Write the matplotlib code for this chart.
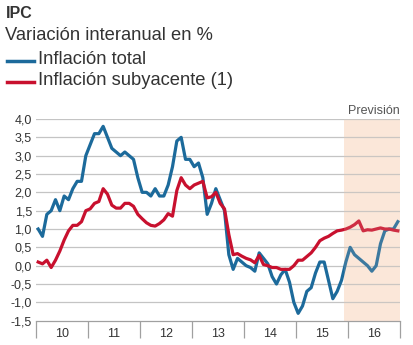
import matplotlib
matplotlib.use("Agg")
import matplotlib.pyplot as plt
from matplotlib.lines import Line2D
import numpy as np

years = ["10", "11", "12", "13", "14", "15", "16"]
yticks = [4.0, 3.5, 3.0, 2.5, 2.0, 1.5, 1.0, 0.5, 0.0, -0.5, -1.0, -1.5]

total = [
    1.0, 0.8, 1.4, 1.5, 1.8, 1.5, 1.9, 1.8, 2.1, 2.3, 2.3, 3.0,
    3.3, 3.6, 3.6, 3.8, 3.5, 3.2, 3.1, 3.0, 3.1, 3.0, 2.9, 2.4,
    2.0, 2.0, 1.9, 2.1, 1.9, 1.9, 2.2, 2.7, 3.4, 3.5, 2.9, 2.9,
    2.7, 2.8, 2.4, 1.4, 1.7, 2.1, 1.8, 1.5, 0.3, -0.1, 0.2, 0.1,
    0.0, -0.05, -0.15, 0.35, 0.2, 0.05, -0.3, -0.5, -0.25, -0.1, -0.45, -1.0,
    -1.3, -1.1, -0.7, -0.6, -0.2, 0.1, 0.1, -0.4, -0.9, -0.7, -0.4, 0.1,
    0.5, 0.3, 0.2, 0.1, 0.0, -0.15, 0.0, 0.6, 0.95, 1.0, 1.0, 1.2,
]
subyacente = [
    0.1, 0.05, 0.15, -0.05, 0.15, 0.4, 0.7, 0.95, 1.1, 1.1, 1.2, 1.5,
    1.55, 1.7, 1.75, 2.1, 1.95, 1.65, 1.57, 1.57, 1.7, 1.7, 1.62, 1.4,
    1.28, 1.17, 1.1, 1.08, 1.15, 1.25, 1.42, 1.35, 2.05, 2.4, 2.2, 2.1,
    2.2, 2.25, 2.3, 1.85, 1.88, 2.0, 1.7, 1.55, 0.85, 0.3, 0.33, 0.26,
    0.2, 0.16, 0.08, 0.28, 0.03, 0.0, -0.05, -0.05, -0.1, -0.1, -0.1, 0.0,
    0.15, 0.15, 0.25, 0.35, 0.5, 0.68, 0.75, 0.8, 0.88, 0.95, 0.97, 1.0,
    1.05, 1.12, 1.22, 0.95, 0.98, 0.97, 1.0, 1.03, 1.0, 1.0, 0.97, 0.95,
]
forecast_start = 71  # month index where "Previsión" shading begins

FONT = "Liberation Sans"
BLUE = "#1c6a9b"
RED = "#c8102e"
TXT = "#333333"
GRID = "#c4c4c4"

fig = plt.figure(figsize=(4.14, 3.45), dpi=100)
ax = fig.add_axes([36 / 414, (345 - 320.7) / 345, 364 / 414, (320.7 - 119) / 345])

n = len(total)
x = np.arange(n) + 0.5
ax.plot(x, total, color=BLUE, lw=2.3, solid_joinstyle="round", zorder=3)
ax.plot(x, subyacente, color=RED, lw=2.3, solid_joinstyle="round", zorder=4)

ax.axvspan(forecast_start, n, facecolor="#fcebdf", lw=0, zorder=0)
ax.axvspan(forecast_start, n, facecolor="#f7d3bb", alpha=0.15, lw=0, zorder=5)

ax.set_xlim(0, n)
ax.set_ylim(-1.5, 4.0)
for v in yticks[:-1]:
    ax.axhline(v, color=GRID, lw=0.9, zorder=1)

for s in ["top", "right", "left"]:
    ax.spines[s].set_visible(False)
ax.spines["bottom"].set_color("#a0a0a0")
ax.spines["bottom"].set_linewidth(0.9)

ax.set_yticks(yticks)
ax.set_yticklabels([f"{v:.1f}".replace(".", ",") for v in yticks],
                   fontsize=9, color=TXT, family=FONT)
ax.tick_params(axis="y", length=0, pad=3)

ax.set_xticks(np.arange(0, n + 1, 12))
ax.set_xticklabels([])
ax.tick_params(axis="x", which="major", length=12, width=0.9, color="#a0a0a0")
ax.set_xticks(np.arange(6, n, 12), minor=True)
ax.set_xticklabels(years, minor=True, fontsize=9, color=TXT, family=FONT)
ax.tick_params(axis="x", which="minor", length=0, pad=5.5)

ax.text(1.0, 1.012, "Previsión", transform=ax.transAxes, ha="right", va="bottom",
        fontsize=9, color="#555555", family=FONT)

fig.text(6 / 414, 1 - 13.3 / 345, "IPC", fontsize=11.5, fontweight="bold",
         color=TXT, family=FONT, va="center")
fig.text(5 / 414, 1 - 36 / 345, "Variación interanual en %", fontsize=13.2,
         color=TXT, family=FONT, va="center")
fig.add_artist(Line2D([7 / 414, 34 / 414], [1 - 60.5 / 345] * 2, color=BLUE, lw=2.5))
fig.text(38 / 414, 1 - 59.5 / 345, "Inflación total", fontsize=13.2,
         color=TXT, family=FONT, va="center")
fig.add_artist(Line2D([7 / 414, 34 / 414], [1 - 82 / 345] * 2, color=RED, lw=2.5))
fig.text(38 / 414, 1 - 80.5 / 345, "Inflación subyacente (1)", fontsize=13.2,
         color=TXT, family=FONT, va="center")

fig.savefig("out.png", dpi=100)
